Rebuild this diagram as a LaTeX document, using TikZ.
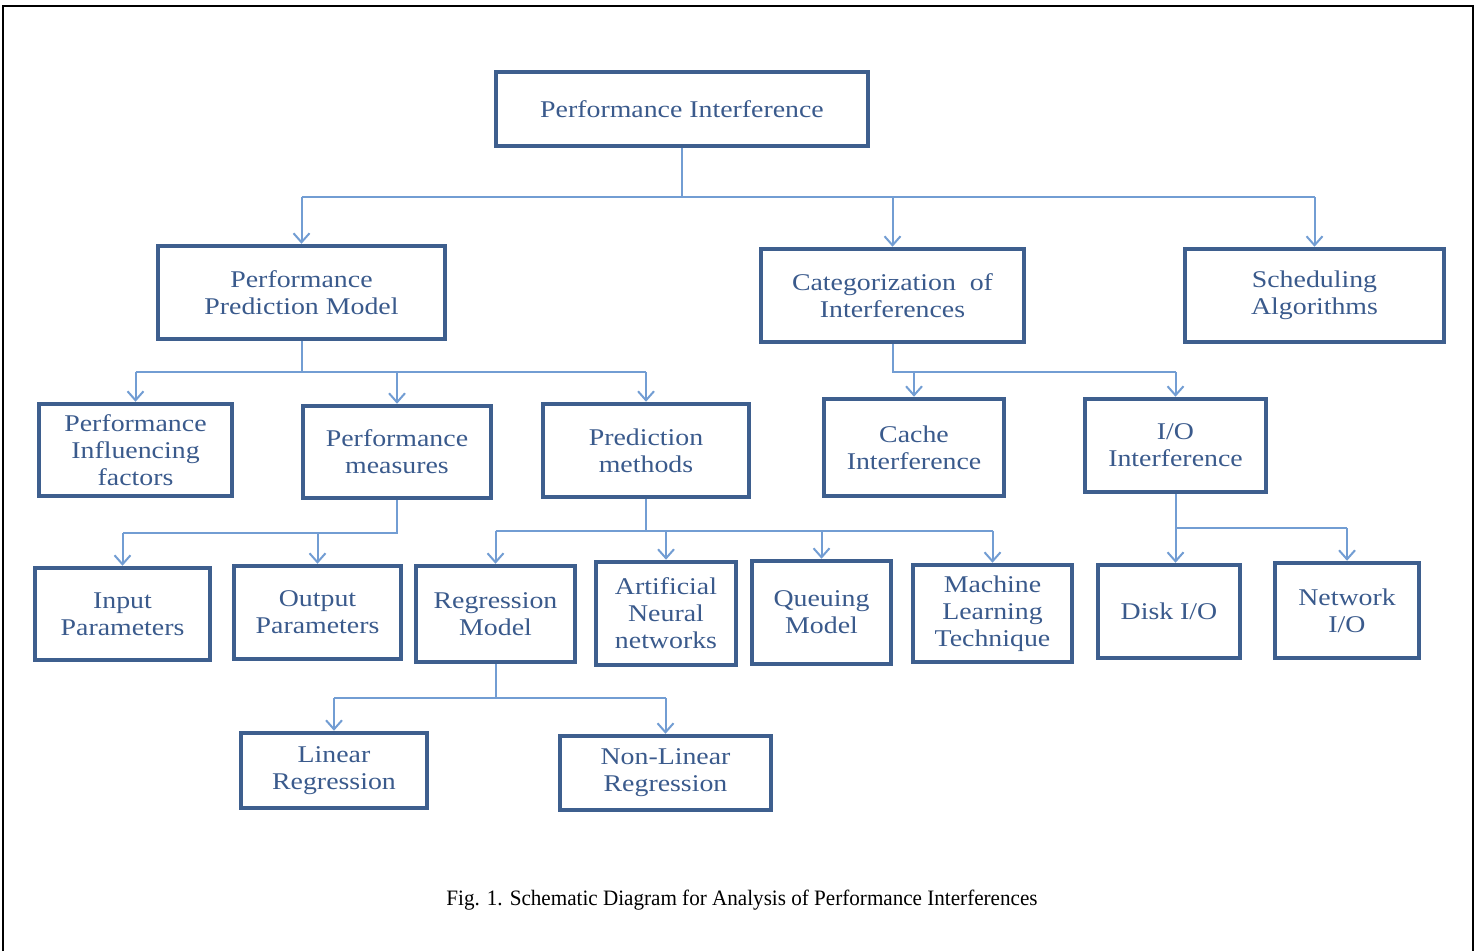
\documentclass[tikz,border=0pt]{standalone}
\usepackage{fontspec}
\setmainfont{Liberation Serif}
\newfontfamily\boxfont[FakeStretch=1.16]{Liberation Serif}
\newfontfamily\capfont[FakeStretch=0.96]{Liberation Serif}
\usetikzlibrary{arrows.meta}
\definecolor{boxc}{HTML}{3E5F8E}
\definecolor{txtc}{HTML}{3A5A8C}
\definecolor{linec}{HTML}{729DD3}
\tikzset{
 bx/.style={draw=boxc, line width=4.5pt, text=txtc, font=\boxfont\fontsize{24}{27}\selectfont, align=center, inner sep=0pt},
 ln/.style={draw=linec, line width=2pt},
 ar/.style={ln, -{Straight Barb[length=9pt,width=16pt,line width=2pt]}},
}
\begin{document}
\begin{tikzpicture}[x=1pt,y=-1pt]
\useasboundingbox (0,0) rectangle (1479,951);
\draw[line width=2pt] (3,951) -- (3,6) -- (1473,6) -- (1473,951);
\node[bx, minimum width=372pt, minimum height=74pt] (pi) at (682,109) {Performance Interference};
\node[bx, minimum width=287pt, minimum height=93pt] (ppm) at (301.5,292.5) {Performance\\Prediction Model};
\node[bx, minimum width=263pt, minimum height=93pt] (cat) at (892.5,295.5) {Categorization\ \ of\\Interferences};
\node[bx, minimum width=259pt, minimum height=93pt] (sch) at (1314.5,295.5) {Scheduling\\Algorithms};
\node[bx, minimum width=193pt, minimum height=92pt] (pif) at (135.5,450) {Performance\\Influencing\\factors};
\node[bx, minimum width=188pt, minimum height=92pt] (pm) at (397,452) {Performance\\measures};
\node[bx, minimum width=206pt, minimum height=93pt] (pmeth) at (646,450.5) {Prediction\\methods};
\node[bx, minimum width=180pt, minimum height=97pt] (cache) at (914,447.5) {Cache\\Interference};
\node[bx, minimum width=181pt, minimum height=93pt] (io) at (1175.5,445.5) {I/O\\Interference};
\node[bx, minimum width=175pt, minimum height=92pt] (inp) at (122.5,614) {Input\\Parameters};
\node[bx, minimum width=167pt, minimum height=93pt] (outp) at (317.5,612.5) {Output\\Parameters};
\node[bx, minimum width=159pt, minimum height=96pt] (reg) at (495.5,614) {Regression\\Model};
\node[bx, minimum width=140pt, minimum height=103pt] (ann) at (666,613.5) {Artificial\\Neural\\networks};
\node[bx, minimum width=139pt, minimum height=103pt] (que) at (821.5,612.5) {Queuing\\Model};
\node[bx, minimum width=159pt, minimum height=97pt] (ml) at (992.5,613.5) {Machine\\Learning\\Technique};
\node[bx, minimum width=142pt, minimum height=93pt] (disk) at (1169,611.5) {Disk I/O};
\node[bx, minimum width=144pt, minimum height=95pt] (net) at (1347,610.5) {Network\\I/O};
\node[bx, minimum width=186pt, minimum height=75pt] (lin) at (334,770.5) {Linear\\Regression};
\node[bx, minimum width=211pt, minimum height=74pt] (nlin) at (665.5,773) {Non-Linear\\Regression};
% junctions
\coordinate (j1) at (682,197);
\coordinate (j2) at (302,372);
\coordinate (j3) at (892,372);
\coordinate (j4) at (397,533);
\coordinate (j5) at (646,531);
\coordinate (j6) at (1176,528);
\coordinate (j7) at (494,698);
% level 1
\draw[ln] (pi.south) -- (pi.south |- j1);
\draw[ln] (ppm.north |- j1) -- (sch.north |- j1);
\draw[ar] (ppm.north |- j1) -- (ppm.north);
\draw[ar] (cat.north |- j1) -- (cat.north);
\draw[ar] (sch.north |- j1) -- (sch.north);
% ppm children
\draw[ln] (ppm.south) -- (ppm.south |- j2);
\draw[ln] (pif.north |- j2) -- (pmeth.north |- j2);
\draw[ar] (pif.north |- j2) -- (pif.north);
\draw[ar] (pm.north |- j2) -- (pm.north);
\draw[ar] (pmeth.north |- j2) -- (pmeth.north);
% cat children
\draw[ln] (cat.south) -- (cat.south |- j3) -- (io.north |- j3);
\draw[ar] (cache.north |- j3) -- (cache.north);
\draw[ar] (io.north |- j3) -- (io.north);
% pm children
\draw[ln] (pm.south) -- (pm.south |- j4) -- (inp.north |- j4);
\draw[ar] (inp.north |- j4) -- (inp.north);
\draw[ar] (outp.north |- j4) -- (outp.north);
% pmeth children
\draw[ln] (pmeth.south) -- (pmeth.south |- j5);
\draw[ln] (reg.north |- j5) -- (ml.north |- j5);
\draw[ar] (reg.north |- j5) -- (reg.north);
\draw[ar] (ann.north |- j5) -- (ann.north);
\draw[ar] (que.north |- j5) -- (que.north);
\draw[ar] (ml.north |- j5) -- (ml.north);
% io children
\draw[ar] (io.south) -- (disk.north -| io.south);
\draw[ln] (j6) -- (net.north |- j6);
\draw[ar] (net.north |- j6) -- (net.north);
% reg children
\draw[ln] (reg.south) -- (reg.south |- j7);
\draw[ln] (lin.north |- j7) -- (nlin.north |- j7);
\draw[ar] (lin.north |- j7) -- (lin.north);
\draw[ar] (nlin.north |- j7) -- (nlin.north);
\node[font=\capfont\fontsize{22}{26}\selectfont] (cap) at (742,900) {Fig. 1. Schematic Diagram for Analysis of Performance Interferences};
\end{tikzpicture}
\end{document}
